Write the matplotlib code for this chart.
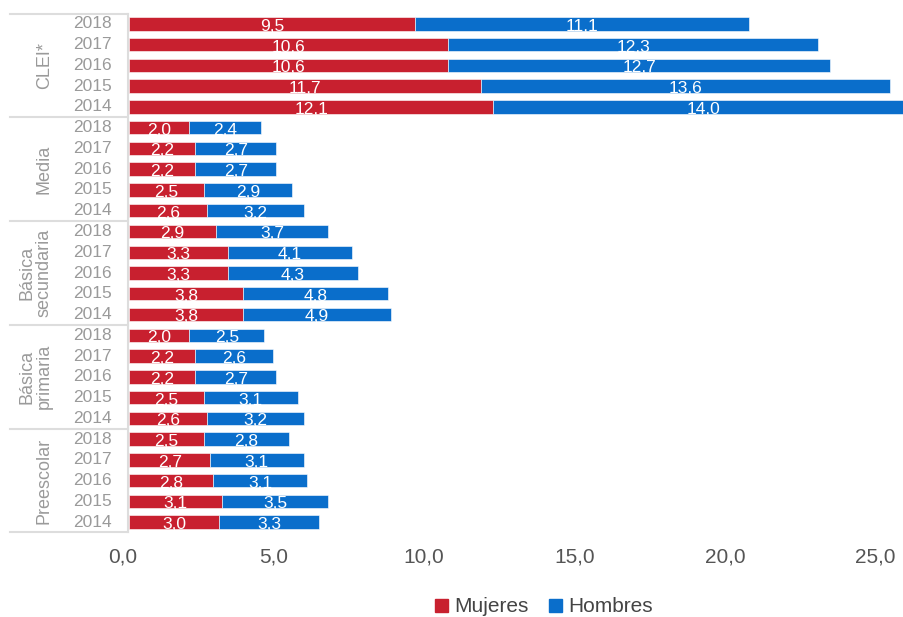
import matplotlib
matplotlib.use("Agg")
import matplotlib.pyplot as plt
from matplotlib.transforms import blended_transform_factory, ScaledTranslation

plt.rcParams['font.family'] = ['Liberation Sans', 'DejaVu Sans']

# ================== Datos ==================
grupos = ['CLEI*', 'Media', 'Básica\nsecundaria', 'Básica\nprimaria', 'Preescolar']
anios = ['2018', '2017', '2016', '2015', '2014']

mujeres = [
    [9.5, 10.6, 10.6, 11.7, 12.1],   # CLEI*
    [2.0, 2.2, 2.2, 2.5, 2.6],       # Media
    [2.9, 3.3, 3.3, 3.8, 3.8],       # Básica secundaria
    [2.0, 2.2, 2.2, 2.5, 2.6],       # Básica primaria
    [2.5, 2.7, 2.8, 3.1, 3.0],       # Preescolar
]
hombres = [
    [11.1, 12.3, 12.7, 13.6, 14.0],
    [2.4, 2.7, 2.7, 2.9, 3.2],
    [3.7, 4.1, 4.3, 4.8, 4.9],
    [2.5, 2.6, 2.7, 3.1, 3.2],
    [2.8, 3.1, 3.1, 3.5, 3.3],
]
xticks = [0, 5, 10, 15, 20, 25]

rojo = '#C8202F'
azul = '#0A6ECB'
gris = '#9A9A9A'
linea = '#DDDDDD'

# ================== Figura ==================
W, H = 904, 617
fig = plt.figure(figsize=(W / 100, H / 100), dpi=100)
ax = fig.add_axes([129 / W, 1 - 532.4 / H, 1 - 129 / W, (532.4 - 13.6) / H])

n_anios = len(anios)
for g in range(len(grupos)):
    for j in range(n_anios):
        y = g * n_anios + j
        m = mujeres[g][j]
        h = hombres[g][j]
        ax.barh(y, m, height=0.65, color=rojo, edgecolor='white', linewidth=0.4)
        ax.barh(y, h, left=m, height=0.65, color=azul, edgecolor='white', linewidth=0.4)
        ax.text(m / 2, y + 0.12, f"{m:.1f}".replace('.', ','), color='white',
                fontsize=12.5, ha='center', va='center')
        ax.text(m + h / 2, y + 0.12, f"{h:.1f}".replace('.', ','), color='white',
                fontsize=12.5, ha='center', va='center', clip_on=True)

total = len(grupos) * n_anios
ax.set_ylim(total - 0.5, -0.5)
ax.set_xlim(0, 25.75)
ax.set_yticks([])
ax.set_xticks(xticks)
ax.set_xticklabels([f"{t:.1f}".replace('.', ',') for t in xticks],
                   fontsize=15, color='#555555')
ax.tick_params(axis='x', length=0, pad=11)
desplazar = ScaledTranslation(-6 / 100, 0, fig.dpi_scale_trans)
for lbl in ax.get_xticklabels():
    lbl.set_transform(lbl.get_transform() + desplazar)
for s in ax.spines.values():
    s.set_visible(False)

# etiquetas de años y grupos a la izquierda
trans = blended_transform_factory(fig.transFigure, ax.transData)
for g, nombre in enumerate(grupos):
    for j, a in enumerate(anios):
        ax.text(112 / W, g * n_anios + j, a, transform=trans, ha='right',
                va='center', fontsize=12.5, color=gris)
    ax.text(53 / W, g * n_anios + 2, nombre, transform=trans, rotation=90,
            ha='right', va='center', multialignment='center',
            fontsize=13, color=gris, linespacing=1.0)

for b in range(len(grupos) + 1):
    yb = b * n_anios - 0.5
    ax.plot([10 / W, 128 / W], [yb, yb], transform=trans, color=linea,
            linewidth=1.5, clip_on=False)
ax.plot([128 / W, 128 / W], [-0.5, total - 0.5], transform=trans, color=linea,
        linewidth=1.5, clip_on=False)

# leyenda
handles = [plt.Rectangle((0, 0), 1, 1, color=rojo),
           plt.Rectangle((0, 0), 1, 1, color=azul)]
fig.legend(handles, ['Mujeres', 'Hombres'], loc='center',
           bbox_to_anchor=(544 / W, 1 - 607 / H), ncol=2, frameon=False,
           fontsize=15, handlelength=0.6, handleheight=0.6,
           handletextpad=0.3, columnspacing=1.0, labelcolor='#444444')

fig.savefig('out.png', dpi=100)
